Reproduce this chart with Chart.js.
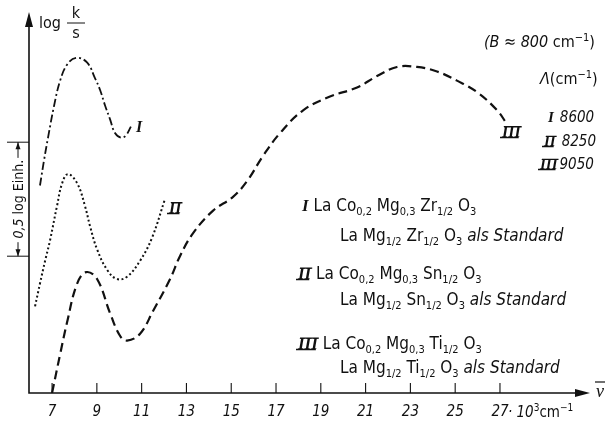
<!DOCTYPE html>
<html>
<head>
<meta charset="utf-8">
<script src="https://cdn.jsdelivr.net/npm/chart.js@4/dist/chart.umd.min.js"></script>
<style>
  body { margin: 0; background: #fff; }
  canvas { display: block; }
</style>
</head>
<body>
<canvas id="chart" width="609" height="421"></canvas>
<script>
// wavenumber in 10^3 cm^-1, log(k/s) in log units (arbitrary zero)
const nuI  = [6.46, 6.64, 6.82, 7.09, 7.36, 7.67, 8.07, 8.56, 8.92, 9.14, 9.37, 9.59, 9.81, 10.08, 10.30, 10.53];
const logI = [0.91, 1.02, 1.12, 1.26, 1.37, 1.44, 1.47, 1.45, 1.38, 1.33, 1.26, 1.20, 1.14, 1.12, 1.13, 1.17];

const nuII  = [6.24, 6.46, 6.69, 6.91, 7.22, 7.45, 7.71, 8.12, 8.47, 8.70, 9.01, 9.46, 9.90, 10.35, 10.93, 11.46, 12.04];
const logII = [0.38, 0.48, 0.58, 0.67, 0.82, 0.92, 0.96, 0.92, 0.82, 0.73, 0.63, 0.54, 0.50, 0.51, 0.58, 0.68, 0.85];

const nuIII  = [7.00, 7.36, 7.67, 8.12, 8.52, 9.01, 9.59, 10.04, 10.35, 10.93, 11.51, 12.27, 12.71, 13.29, 14.19,
                15.08, 15.71, 16.42, 17.18, 18.21, 19.41, 20.62, 21.51, 22.40, 23.29, 24.19, 25.08, 25.97, 26.87, 27.31];
const logIII = [0.00, 0.17, 0.31, 0.48, 0.53, 0.50, 0.35, 0.25, 0.23, 0.26, 0.36, 0.50, 0.60, 0.70, 0.80,
                0.86, 0.93, 1.04, 1.14, 1.24, 1.30, 1.34, 1.39, 1.43, 1.43, 1.41, 1.37, 1.32, 1.24, 1.18];

const xTicks = [7, 9, 11, 13, 15, 17, 19, 21, 23, 25, 27];
const scaleBar = [0.6, 1.1];            // 0,5 log Einh.
const curveNames = ['I', 'II', 'III'];
const lambdaValues = ['8600', '8250', '9050'];

const SANS = "'Liberation Sans Narrow', 'DejaVu Sans Condensed', sans-serif";
const SERIF = "'Liberation Serif', 'DejaVu Serif', serif";

function pts(xs, ys) {
  return xs.map(function(x, i) { return { x: x, y: ys[i] }; });
}

// draws an italic roman numeral with bars (I, II, III)
function roman(ctx, txt, x, y, size) {
  ctx.font = 'italic bold ' + size + 'px ' + SERIF;
  ctx.textAlign = 'left';
  ctx.textBaseline = 'alphabetic';
  ctx.fillText(txt, x, y);
  const w = ctx.measureText(txt).width;
  if (txt.length > 1) {
    ctx.lineWidth = 1.3;
    ctx.beginPath();
    ctx.moveTo(x + 2, y - size * 0.64); ctx.lineTo(x + w + 1, y - size * 0.64);
    ctx.moveTo(x - 2, y + 0.5); ctx.lineTo(x + w - 2, y + 0.5);
    ctx.stroke();
  }
  return w;
}

// parts: [type, text]; n normal, s subscript, p superscript, i italic, r roman numeral
function rich(ctx, x, y, parts, size) {
  let cx = x;
  parts.forEach(function(p) {
    const t = p[0], s = p[1];
    if (t === 'r') { cx += roman(ctx, s, cx, y, size); return; }
    ctx.textAlign = 'left';
    ctx.textBaseline = 'alphabetic';
    if (t === 'n') ctx.font = size + 'px ' + SANS;
    if (t === 'i') ctx.font = 'italic ' + size + 'px ' + SANS;
    if (t === 's' || t === 'p') ctx.font = Math.round(size * 0.66) + 'px ' + SANS;
    const dy = t === 's' ? size * 0.22 : (t === 'p' ? -size * 0.4 : 0);
    ctx.fillText(s, cx, y + dy);
    cx += ctx.measureText(s).width;
  });
  return cx - x;
}

const decor = {
  id: 'decor',
  beforeDraw: function(chart) {
    const ctx = chart.ctx;
    ctx.save();
    ctx.fillStyle = '#fff';
    ctx.fillRect(0, 0, chart.width, chart.height);
    ctx.restore();
  },
  afterDraw: function(chart) {
    const ctx = chart.ctx;
    const xs = chart.scales.x, ys = chart.scales.y;
    const a = chart.chartArea;
    ctx.save();
    ctx.strokeStyle = '#111';
    ctx.fillStyle = '#111';
    ctx.lineWidth = 1.6;

    // axes
    ctx.beginPath();
    ctx.moveTo(a.left, a.top + 6); ctx.lineTo(a.left, a.bottom);
    ctx.lineTo(a.right - 8, a.bottom);
    ctx.stroke();
    // arrow heads
    ctx.beginPath();
    ctx.moveTo(a.left, a.top); ctx.lineTo(a.left - 4, a.top + 15); ctx.lineTo(a.left + 4, a.top + 15);
    ctx.closePath(); ctx.fill();
    ctx.beginPath();
    ctx.moveTo(a.right, a.bottom); ctx.lineTo(a.right - 15, a.bottom - 4); ctx.lineTo(a.right - 15, a.bottom + 4);
    ctx.closePath(); ctx.fill();

    // x ticks (pointing up) and labels
    ctx.lineWidth = 1.1;
    ctx.font = 'italic 15px ' + SANS;
    ctx.textAlign = 'center';
    ctx.textBaseline = 'middle';
    xTicks.forEach(function(v) {
      const px = xs.getPixelForValue(v);
      ctx.beginPath();
      ctx.moveTo(px, a.bottom); ctx.lineTo(px, a.bottom - 10);
      ctx.stroke();
      ctx.fillText(String(v), px, a.bottom + 19);
    });
    const last = xs.getPixelForValue(xTicks[xTicks.length - 1]);
    rich(ctx, last + 8, a.bottom + 24, [['i', '\u00b7'], ['i', ' 10'], ['p', '3'], ['n', 'cm'], ['p', '\u22121']], 15);

    // nu bar
    ctx.font = 'italic 18px ' + SERIF;
    ctx.textAlign = 'center';
    ctx.textBaseline = 'alphabetic';
    ctx.fillText('\u03bd', 600, a.bottom + 4);
    ctx.lineWidth = 1.2;
    ctx.beginPath(); ctx.moveTo(595, a.bottom - 11); ctx.lineTo(605, a.bottom - 11); ctx.stroke();

    // y label log k/s
    ctx.font = '16px ' + SANS;
    ctx.textAlign = 'left';
    ctx.fillText('log', 39, 28);
    ctx.textAlign = 'center';
    ctx.fillText('k', 76, 18);
    ctx.fillText('s', 76, 38);
    ctx.lineWidth = 1;
    ctx.beginPath(); ctx.moveTo(67, 23); ctx.lineTo(85, 23); ctx.stroke();

    // scale bar 0,5 log Einh.
    const yTop = ys.getPixelForValue(scaleBar[1]);
    const yBot = ys.getPixelForValue(scaleBar[0]);
    ctx.lineWidth = 1;
    ctx.beginPath();
    ctx.moveTo(7, yTop); ctx.lineTo(a.left, yTop);
    ctx.moveTo(7, yBot); ctx.lineTo(a.left, yBot);
    ctx.moveTo(18, yTop); ctx.lineTo(18, yTop + 16);
    ctx.moveTo(18, yBot); ctx.lineTo(18, yBot - 14);
    ctx.stroke();
    ctx.beginPath();
    ctx.moveTo(18, yTop); ctx.lineTo(15.5, yTop + 7); ctx.lineTo(20.5, yTop + 7); ctx.closePath(); ctx.fill();
    ctx.beginPath();
    ctx.moveTo(18, yBot); ctx.lineTo(15.5, yBot - 7); ctx.lineTo(20.5, yBot - 7); ctx.closePath(); ctx.fill();
    ctx.save();
    ctx.translate(18, (yTop + yBot) / 2);
    ctx.rotate(-Math.PI / 2);
    ctx.font = 'italic 14px ' + SANS;
    const w1 = ctx.measureText('0,5 ').width;
    ctx.font = '14px ' + SANS;
    const w2 = ctx.measureText('log Einh.').width;
    const sx = -(w1 + w2) / 2;
    ctx.fillStyle = '#fff';
    ctx.fillRect(sx - 2, -8, w1 + w2 + 4, 16);
    ctx.fillStyle = '#111';
    ctx.textAlign = 'left';
    ctx.textBaseline = 'middle';
    ctx.font = 'italic 14px ' + SANS;
    ctx.fillText('0,5 ', sx, 1);
    ctx.font = '14px ' + SANS;
    ctx.fillText('log Einh.', sx + w1, 1);
    ctx.restore();

    // curve labels
    roman(ctx, curveNames[0], 136, 132, 16);
    roman(ctx, curveNames[1], 169, 213, 16);
    roman(ctx, curveNames[2], 502, 137, 16);

    // Lambda table
    rich(ctx, 484, 47, [['i', '(B \u2248 800 '], ['n', 'cm'], ['p', '\u22121'], ['n', ')']], 16);
    rich(ctx, 540, 84, [['i', '\u039b'], ['n', '(cm'], ['p', '\u22121'], ['n', ')']], 16);
    const rows = [122, 146, 169];
    curveNames.forEach(function(n, i) {
      const x0 = 548 - (n.length - 1) * 4;
      const w = roman(ctx, n, x0, rows[i], 15);
      ctx.font = 'italic 15px ' + SANS;
      ctx.textAlign = 'left';
      ctx.fillText(lambdaValues[i], x0 + w + (i === 2 ? 2 : 6), rows[i]);
    });

    // compounds
    const F = 17;
    rich(ctx, 302, 211, [['r', 'I'], ['n', ' La Co'], ['s', '0,2'], ['n', ' Mg'], ['s', '0,3'], ['n', ' Zr'], ['s', '1/2'], ['n', ' O'], ['s', '3']], F);
    rich(ctx, 340, 241, [['n', 'La Mg'], ['s', '1/2'], ['n', ' Zr'], ['s', '1/2'], ['n', ' O'], ['s', '3'], ['i', ' als Standard']], F);
    rich(ctx, 298, 279, [['r', 'II'], ['n', ' La Co'], ['s', '0,2'], ['n', ' Mg'], ['s', '0,3'], ['n', ' Sn'], ['s', '1/2'], ['n', ' O'], ['s', '3']], F);
    rich(ctx, 340, 305, [['n', 'La Mg'], ['s', '1/2'], ['n', ' Sn'], ['s', '1/2'], ['n', ' O'], ['s', '3'], ['i', ' als Standard']], F);
    rich(ctx, 298, 349, [['r', 'III'], ['n', ' La Co'], ['s', '0,2'], ['n', ' Mg'], ['s', '0,3'], ['n', ' Ti'], ['s', '1/2'], ['n', ' O'], ['s', '3']], F);
    rich(ctx, 340, 373, [['n', 'La Mg'], ['s', '1/2'], ['n', ' Ti'], ['s', '1/2'], ['n', ' O'], ['s', '3'], ['i', ' als Standard']], F);

    ctx.restore();
  }
};

new Chart(document.getElementById('chart'), {
  type: 'scatter',
  data: {
    datasets: [
      { label: 'I', data: pts(nuI, logI), borderDash: [8, 3, 2, 3], borderWidth: 1.8 },
      { label: 'II', data: pts(nuII, logII), borderDash: [2, 2.5], borderWidth: 2 },
      { label: 'III', data: pts(nuIII, logIII), borderDash: [9, 5], borderWidth: 2.2 }
    ].map(function(d) {
      d.showLine = true;
      d.pointRadius = 0;
      d.borderColor = '#111';
      d.backgroundColor = '#111';
      d.tension = 0.4;
      return d;
    })
  },
  options: {
    responsive: false,
    animation: false,
    devicePixelRatio: 1,
    layout: { padding: { left: 29, top: 12, right: 19, bottom: 28 } },
    plugins: { legend: { display: false }, tooltip: { enabled: false } },
    scales: {
      x: { type: 'linear', display: false, min: 5.97, max: 31.02 },
      y: { type: 'linear', display: false, min: 0, max: 1.671 }
    }
  },
  plugins: [decor]
});
</script>
</body>
</html>
